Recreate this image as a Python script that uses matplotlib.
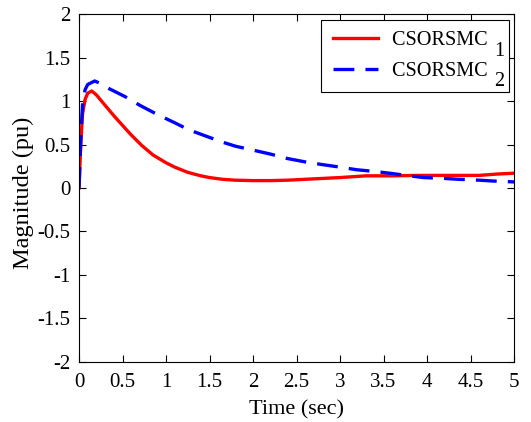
import matplotlib
matplotlib.use('Agg')
import matplotlib.pyplot as plt

plt.rcParams['font.family'] = 'Liberation Serif'
plt.rcParams['axes.unicode_minus'] = False
plt.rcParams['lines.scale_dashes'] = False

# CSORSMC 1 (red, solid)
t_red = [0, 0.02, 0.04, 0.07, 0.1, 0.146, 0.2, 0.3, 0.41, 0.5, 0.6, 0.72, 0.85,
         1.0, 1.1, 1.25, 1.4, 1.5, 1.65, 1.79, 2.0, 2.2, 2.4, 2.6, 2.8, 3.0,
         3.3, 3.6, 3.9, 4.2, 4.6, 4.8, 5.0]
v_red = [0, 0.5, 0.85, 1.02, 1.09, 1.115, 1.07, 0.95, 0.82, 0.72, 0.61, 0.49, 0.38,
         0.29, 0.24, 0.18, 0.14, 0.12, 0.10, 0.09, 0.085, 0.085, 0.09, 0.10, 0.11, 0.12,
         0.14, 0.14, 0.145, 0.145, 0.145, 0.16, 0.17]

# CSORSMC 2 (blue, dashed)
t_blue = [0, 0.02, 0.04, 0.07, 0.1, 0.18, 0.25, 0.35, 0.53, 0.7, 0.91, 1.1, 1.26,
          1.45, 1.64, 1.8, 1.98, 2.2, 2.39, 2.6, 2.79, 3.0, 3.19, 3.4, 3.57, 3.8,
          3.96, 4.2, 4.36, 4.6, 4.76, 5.0]
v_blue = [0, 0.55, 0.95, 1.13, 1.19, 1.23, 1.2, 1.14, 1.05, 0.95, 0.84, 0.75, 0.67,
          0.60, 0.53, 0.48, 0.44, 0.39, 0.34, 0.30, 0.27, 0.24, 0.21, 0.19, 0.17, 0.14,
          0.12, 0.11, 0.10, 0.09, 0.08, 0.07]

names = ['CSORSMC', 'CSORSMC']
subs = ['1', '2']

xticks = [0, 0.5, 1, 1.5, 2, 2.5, 3, 3.5, 4, 4.5, 5]
xlabels = ['0', '0.5', '1', '1.5', '2', '2.5', '3', '3.5', '4', '4.5', '5']
yticks = [-2, -1.5, -1, -0.5, 0, 0.5, 1, 1.5, 2]
ylabels = ['-2', '-1.5', '-1', '-0.5', '0', '0.5', '1', '1.5', '2']

fig = plt.figure(figsize=(5.31, 4.22), dpi=100)
ax = fig.add_axes((0.1488, 0.1422, 0.8192, 0.8246))

ax.plot(t_red, v_red, color='#ff0000', lw=2.4, label=names[0] + '  ')
ax.plot(t_blue, v_blue, color='#0000ff', lw=2.4, dashes=(15, 8), label=names[1] + '  ')

ax.set_xlim(0, 5)
ax.set_ylim(-2, 2)
ax.set_xticks(xticks)
ax.set_xticklabels(xlabels)
ax.set_yticks(yticks)
ax.set_yticklabels(ylabels)
ax.tick_params(direction='in', top=True, right=True, length=5, labelsize=15)
ax.tick_params(axis='x', pad=8)
ax.tick_params(axis='y', pad=6)
for s in ax.spines.values():
    s.set_linewidth(0.8)

ax.set_xlabel('Time (sec)', fontsize=16, labelpad=6)
ax.set_ylabel('Magnitude (pu)', fontsize=17.5)
ax.yaxis.set_label_coords(-0.104, 0.487)

lfs = 14.6
leg = ax.legend(loc='upper right', bbox_to_anchor=(0.9885, 0.9828), borderaxespad=0,
                fontsize=lfs, fancybox=False, framealpha=1, edgecolor='black',
                handlelength=2.24, handletextpad=0.69, borderpad=0.55, labelspacing=0.55)
leg.get_frame().set_linewidth(0.8)

# lowered full-size index after each legend name
fig.canvas.draw()
r = fig.canvas.get_renderer()
W, H = fig.bbox.width, fig.bbox.height
for txt, name, d in zip(leg.get_texts(), names, subs):
    bb = txt.get_window_extent(r)
    tmp = fig.text(0, 0, name, fontsize=lfs)
    w = tmp.get_window_extent(r).width
    tmp.remove()
    fig.text((bb.x0 + w + 7) / W, (bb.y0 - 10.5) / H, d, fontsize=lfs, va='bottom')

fig.savefig('out.png', dpi=100)
